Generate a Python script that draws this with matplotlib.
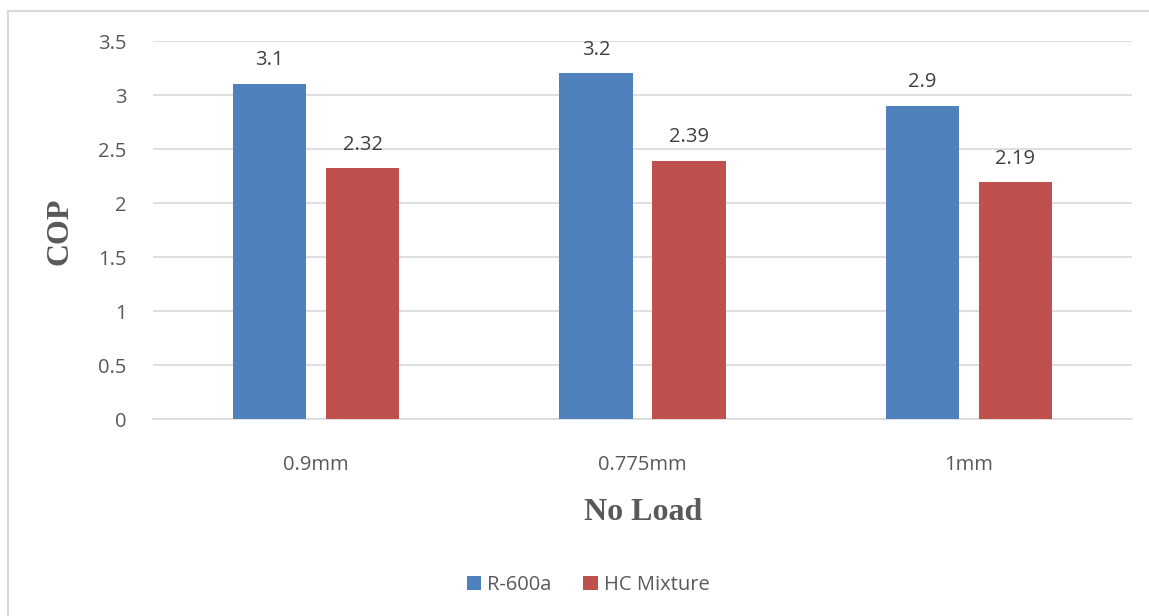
import matplotlib.pyplot as plt
from matplotlib.lines import Line2D
import numpy as np

categories = ["0.9mm", "0.775mm", "1mm"]
r600a = [3.1, 3.2, 2.9]
hc_mix = [2.32, 2.39, 2.19]
yticks = [0, 0.5, 1, 1.5, 2, 2.5, 3, 3.5]

BLUE = "#4F81BD"
RED = "#C0504D"
GREY = "#595959"
FONT = ["Open Sans", "DejaVu Sans"]
SERIF = "Liberation Serif"

fig = plt.figure(figsize=(11.49, 6.16), dpi=100)
ax = fig.add_axes([0.1332, 0.3198, 0.8520, 0.6136])

x = np.arange(len(categories))
w = 0.224
off = (w + 0.061) / 2
b1 = ax.bar(x - off, r600a, w, color=BLUE, label="R-600a", zorder=3)
b2 = ax.bar(x + off, hc_mix, w, color=RED, label="HC Mixture", zorder=3)

for bars, vals in ((b1, r600a), (b2, hc_mix)):
    for b, v in zip(bars, vals):
        ax.annotate(f"{v:g}", (b.get_x() + b.get_width() / 2, v),
                    xytext=(0, 10), textcoords="offset points",
                    ha="center", va="bottom", fontsize=14.5, color="#404040",
                    family=FONT)

ax.set_xlim(-0.5, len(categories) - 0.5)
ax.set_ylim(0, 3.5)
ax.set_yticks(yticks)
ax.set_yticklabels([f"{t:g}" for t in yticks], family=FONT, fontsize=14.5, color=GREY)
ax.set_xticks(x)
ax.set_xticklabels(categories, family=FONT, fontsize=14.5, color=GREY)
ax.tick_params(axis="both", length=0)
ax.tick_params(axis="y", pad=19)
ax.tick_params(axis="x", pad=26)
ax.grid(axis="y", color="#D9D9D9", lw=1.2, zorder=0)
for s in ("top", "right", "left"):
    ax.spines[s].set_visible(False)
ax.spines["bottom"].set_color("#D9D9D9")
ax.spines["bottom"].set_linewidth(1.2)

fig.text(60 / 1149, 1 - 231 / 616, "COP", family=SERIF, fontweight="bold",
         fontsize=23, color=GREY, rotation=90, ha="center", va="center")
fig.text(643 / 1149, 1 - 512 / 616, "No Load", family=SERIF,
         fontweight="bold", fontsize=23, color=GREY, ha="center", va="center")

ax.legend(loc="center", bbox_to_anchor=(588 / 1149, 1 - 585 / 616), bbox_transform=fig.transFigure,
          ncol=2, frameon=False, prop={"family": FONT, "size": 14.5},
          handlelength=0.7, handleheight=0.7, handletextpad=0.3, columnspacing=1.6,
          labelcolor=GREY)

# outer chart border (only top and left visible in the crop)
fig.add_artist(Line2D([8 / 1149, 1], [1 - 11 / 616] * 2, color="#D9D9D9", lw=1.5,
                      transform=fig.transFigure))
fig.add_artist(Line2D([8 / 1149] * 2, [0, 1 - 11 / 616], color="#D9D9D9", lw=1.5,
                      transform=fig.transFigure))

fig.savefig("out.png", dpi=100)
